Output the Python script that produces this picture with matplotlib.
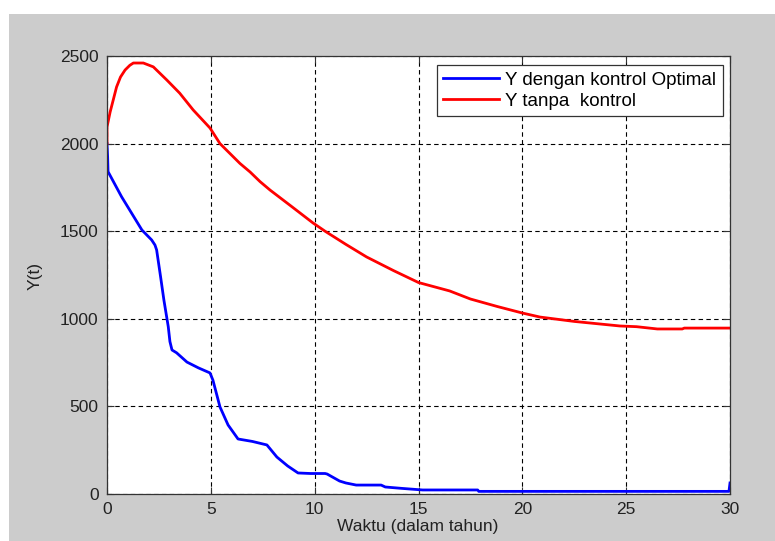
import matplotlib
matplotlib.use("Agg")
from matplotlib import pyplot as plt
from matplotlib.patches import Rectangle

# Y with optimal control
t_opt = [0, 0.03, 0.05, 0.7, 1.68, 2.15, 2.31, 2.39, 2.58, 2.74, 2.95, 3.03, 3.13,
         3.35, 3.85, 4.4, 4.96, 5.1, 5.44, 5.83, 6.31, 7.0, 7.7, 8.18, 8.7, 9.2,
         9.8, 10.5, 10.6, 11.2, 11.5, 12.0, 13.2, 13.4, 14.2, 15.2, 17.85, 17.9,
         29.95, 30.0]
y_opt = [2000, 1925, 1840, 1697, 1507, 1450, 1421, 1393, 1240, 1107, 955, 870, 822,
         806, 753, 720, 691, 650, 497, 394, 314, 300, 280, 211, 160, 120,
         117, 117, 114, 74, 63, 51, 51, 40, 32, 23, 23, 15,
         15, 63]

# Y without control
t_free = [0, 0.0, 0.15, 0.3, 0.46, 0.65, 0.87, 1.1, 1.27, 1.75, 2.23, 2.88, 3.5, 4.15,
          4.96, 5.44, 6.4, 6.89, 7.37, 7.85, 8.9, 9.92, 10.5, 11.5, 12.5, 13.8, 15.0,
          16.5, 17.5, 18.8, 20.0, 20.85, 22.5, 24.7, 25.5, 26.5, 27.7, 27.8, 30]
y_free = [2000, 2095, 2180, 2249, 2323, 2380, 2420, 2447, 2460, 2460, 2438, 2363, 2288, 2192,
          2089, 2000, 1887, 1838, 1783, 1735, 1640, 1547, 1500, 1425, 1353, 1275, 1207,
          1159, 1113, 1070, 1033, 1010, 985, 959, 955, 942, 942, 947, 947]

x_ticks = [0, 5, 10, 15, 20, 25, 30]
y_ticks = [0, 500, 1000, 1500, 2000, 2500]

plt.rcParams['font.family'] = ['Liberation Sans', 'DejaVu Sans']
plt.rcParams['font.size'] = 12.5

fig = plt.figure(figsize=(7.75, 5.41), dpi=100, facecolor='#cccccc')
# white margins on top and left of the grey window
fig.patches.append(Rectangle((0, 1 - 14 / 541), 1, 14 / 541, transform=fig.transFigure,
                             facecolor='white', edgecolor='none', zorder=-1))
fig.patches.append(Rectangle((0, 0), 9 / 775, 1, transform=fig.transFigure,
                             facecolor='white', edgecolor='none', zorder=-1))

ax = fig.add_axes([107 / 775, 1 - 494 / 541, 623 / 775, 438 / 541])
ax.set_facecolor('white')

ax.plot(t_opt, y_opt, color='#0000ff', lw=2, label='Y dengan kontrol Optimal')
ax.plot(t_free, y_free, color='#ff0000', lw=2, label='Y tanpa  kontrol')

ax.set_xlim(0, 30)
ax.set_ylim(0, 2500)
ax.set_xticks(x_ticks)
ax.set_yticks(y_ticks)
ax.tick_params(direction='in', length=5, width=0.8, top=True, right=True,
               colors='#333333', labelcolor='#222222', pad=6)
for s in ax.spines.values():
    s.set_color('#333333')
    s.set_linewidth(0.9)

ax.grid(True, color='black', linestyle=(0, (4, 3)), linewidth=0.8)

ax.set_xlabel('Waktu (dalam tahun)', color='#222222')
ax.set_ylabel('Y(t)', color='#222222')
ax.xaxis.set_label_coords(0.498, -0.058)
ax.yaxis.set_label_coords(-0.104, 0.498)

leg = ax.legend(loc='upper right', bbox_to_anchor=(1 - 7 / 623, 1 - 9 / 438),
                borderaxespad=0, fancybox=False, framealpha=1, fontsize=13.5,
                handlelength=3.0, handletextpad=0.32, borderpad=0.35,
                labelspacing=0.2)
leg.get_frame().set_edgecolor('#333333')
leg.get_frame().set_linewidth(0.9)

fig.savefig('out.png', dpi=100, facecolor=fig.get_facecolor())
